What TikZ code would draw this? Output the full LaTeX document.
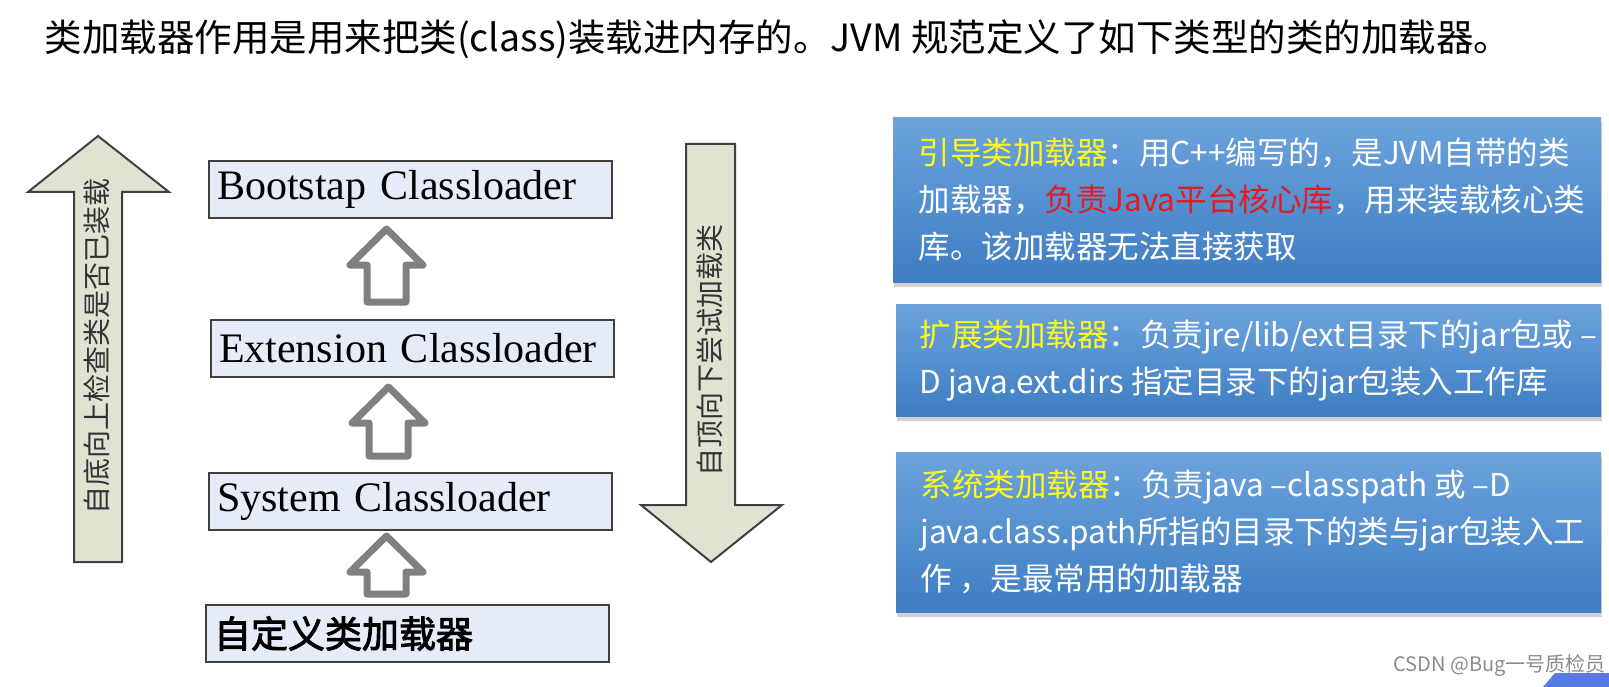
\documentclass[tikz,border=0pt]{standalone}
\usepackage{fontspec}
\setmainfont{Noto Sans CJK SC}
\newfontfamily\enserif{Liberation Serif}
\newfontfamily\cjkbold{Noto Sans CJK SC}[FakeBold=2.5]
\usetikzlibrary{positioning,calc,shadows}
\definecolor{boxfill}{RGB}{230,235,248}
\definecolor{boxline}{RGB}{64,64,64}
\definecolor{bigfill}{RGB}{224,226,210}
\definecolor{infotop}{RGB}{108,163,220}
\definecolor{infobot}{RGB}{62,125,195}
\definecolor{hdyellow}{RGB}{250,248,30}
\definecolor{keyred}{RGB}{228,28,34}
\definecolor{cornerblue}{RGB}{88,122,228}

\begin{document}
\begin{tikzpicture}[x=1pt,y=-1pt,
		loader_style/.style={draw=boxline,line width=2pt,fill=boxfill,anchor=north west,inner xsep=8pt,text width=387pt,minimum height=57pt,align=left,font=\enserif\fontsize{42}{46}\selectfont},
		hollow_style/.style={draw=black!50,line width=7pt,line join=round,fill=white},
		big_style/.style={draw=black!75,line width=2pt,fill=bigfill},
		side_text/.style={rotate=90,font=\fontsize{28}{30}\selectfont,text=black!80},
		info_style/.style={anchor=north west,top color=infotop,bottom color=infobot,drop shadow={opacity=0.35,shadow xshift=1pt,shadow yshift=-5pt}},
		info_text/.style={text=white,align=left,font=\fontsize{31.5}{47}\selectfont}]

		\useasboundingbox[fill=white] (0,0) rectangle (1609,687);

		\node[anchor=west,font=\fontsize{37.5}{40}\selectfont] (title) at (41,39) {类加载器作用是用来把类(class)装载进内存的。JVM 规范定义了如下类型的类的加载器。};

		% big arrows at the sides
		\draw[big_style] (74,562) -- (74,192) -- (28,192) -- (98,136) -- (169,192) -- (122,192) -- (122,562) -- cycle;
		\draw[big_style] (686,144) -- (735,144) -- (735,505) -- (782,505) -- (711,562) -- (641,505) -- (686,505) -- cycle;
		\node[side_text] (up_text) at (97,346) {自底向上检查类是否已装载};
		\node[side_text] (down_text) at (710,350) {自顶向下尝试加载类};

		% loaders
		\node[loader_style] (boot) at (208,160) {Bootstap Classloader};
		\node[loader_style] (ext) at (210,319) {Extension Classloader};
		\node[loader_style] (sys) at (208,472) {System Classloader};
		\node[loader_style,font=\cjkbold\fontsize{37}{40}\selectfont] (cust) at (205,604) {自定义类加载器};

		% hollow arrows, lower box -> upper box
		\foreach \lo/\hi/\gt/\gb in {ext/boot/10/17, sys/ext/9/16, cust/sys/5/10}
			\draw[hollow_style] let \p1=(\hi.south), \p2=(\lo.north) in
				(\x1-43.5pt,\y2+\gb*1pt) -- (\x1-43.5pt,\y1-\gt*1pt-36pt) -- (\x1-60.5pt,\y1-\gt*1pt-36pt)
				-- (\x1-24pt,\y1-\gt*1pt) -- (\x1+12.5pt,\y1-\gt*1pt-36pt) -- (\x1-4.5pt,\y1-\gt*1pt-36pt)
				-- (\x1-4.5pt,\y2+\gb*1pt) -- cycle;

		% descriptions
		\node[info_style,minimum width=708pt,minimum height=165pt] (boot_info) at (893,117) {};
		\node[info_style,minimum width=705pt,minimum height=112pt] (ext_info) at (896,304) {};
		\node[info_style,minimum width=705pt,minimum height=160pt] (sys_info) at (896,452) {};

		\node[info_text,right=22pt of boot_info.west] (boot_desc) {\textcolor{hdyellow}{引导类加载器}：用C++编写的，是JVM自带的类\\加载器，\textcolor{keyred}{负责Java平台核心库}，用来装载核心类\\库。该加载器无法直接获取};
		\node[info_text,right=20pt of ext_info.west] (ext_desc) {\textcolor{hdyellow}{扩展类加载器}：负责jre/lib/ext目录下的jar包或 –\\D java.ext.dirs 指定目录下的jar包装入工作库};
		\node[info_text,right=21pt of sys_info.west] (sys_desc) {\textcolor{hdyellow}{系统类加载器}：负责java –classpath 或 –D\\java.class.path所指的目录下的类与jar包装入工\\作 ，是最常用的加载器};

		\fill[cornerblue] (1543,687) -- (1555,673) -- (1609,673) -- (1609,687) -- cycle;
		\node[anchor=west,text=black!45,font=\fontsize{20}{22}\selectfont] (mark) at (1390,666) {CSDN @Bug一号质检员};
\end{tikzpicture}
\end{document}
